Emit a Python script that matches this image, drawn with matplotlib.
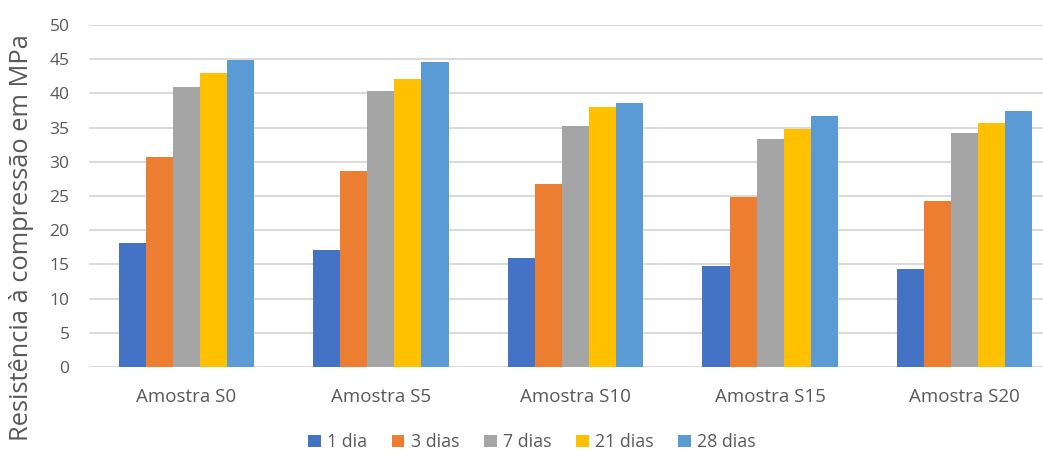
import numpy as np
import matplotlib.pyplot as plt

amostras = ["Amostra S0", "Amostra S5", "Amostra S10", "Amostra S15", "Amostra S20"]
idades = ["1 dia", "3 dias", "7 dias", "21 dias", "28 dias"]

# resistência média (MPa) por idade de cura
dia_1 = [18.2, 17.1, 16.0, 14.7, 14.4]
dias_3 = [30.7, 28.6, 26.8, 24.8, 24.2]
dias_7 = [41.0, 40.4, 35.2, 33.3, 34.2]
dias_21 = [43.0, 42.1, 38.0, 34.8, 35.6]
dias_28 = [44.9, 44.6, 38.6, 36.7, 37.5]

series = [dia_1, dias_3, dias_7, dias_21, dias_28]
cores = ["#4472C4", "#ED7D31", "#A5A5A5", "#FFC000", "#5B9BD5"]

plt.rcParams['font.family'] = ['Open Sans', 'DejaVu Sans']
cinza = "#595959"

fig = plt.figure(figsize=(10.43, 4.53), dpi=100)
ax = fig.add_axes([89 / 1043, 86 / 453, (1043 - 89) / 1043, 342 / 453])

x = np.arange(len(amostras))
larg = 0.139
for i, (vals, cor) in enumerate(zip(series, cores)):
    ax.bar(x + (i - 2) * larg, vals, width=larg, color=cor, label=idades[i], zorder=3)

ax.set_ylim(0, 50)
ax.set_yticks(range(0, 51, 5))
ax.set_xlim(-0.5, 4.5 - 19 / 194.6)
ax.set_xticks(x)
ax.set_xticklabels(amostras)
ax.grid(axis='y', color="#d9d9d9", linewidth=1.4, zorder=0)
for s in ax.spines.values():
    s.set_visible(False)
ax.tick_params(length=0, colors=cinza)
ax.tick_params(axis='y', pad=14, labelsize=12.5)
ax.tick_params(axis='x', pad=15, labelsize=13.5)

fig.text(0.021, 0.476, "Resistência à compressão em MPa", rotation=90,
         ha='center', va='center', fontsize=18.3, color=cinza)

fig.legend(loc='center', bbox_to_anchor=(532 / 1043, 1 - 442 / 453), ncol=5,
           frameon=False, fontsize=12.8, handlelength=0.7, handleheight=0.7,
           handletextpad=0.35, columnspacing=1.4, labelcolor=cinza)

fig.savefig("out.png", dpi=100)
